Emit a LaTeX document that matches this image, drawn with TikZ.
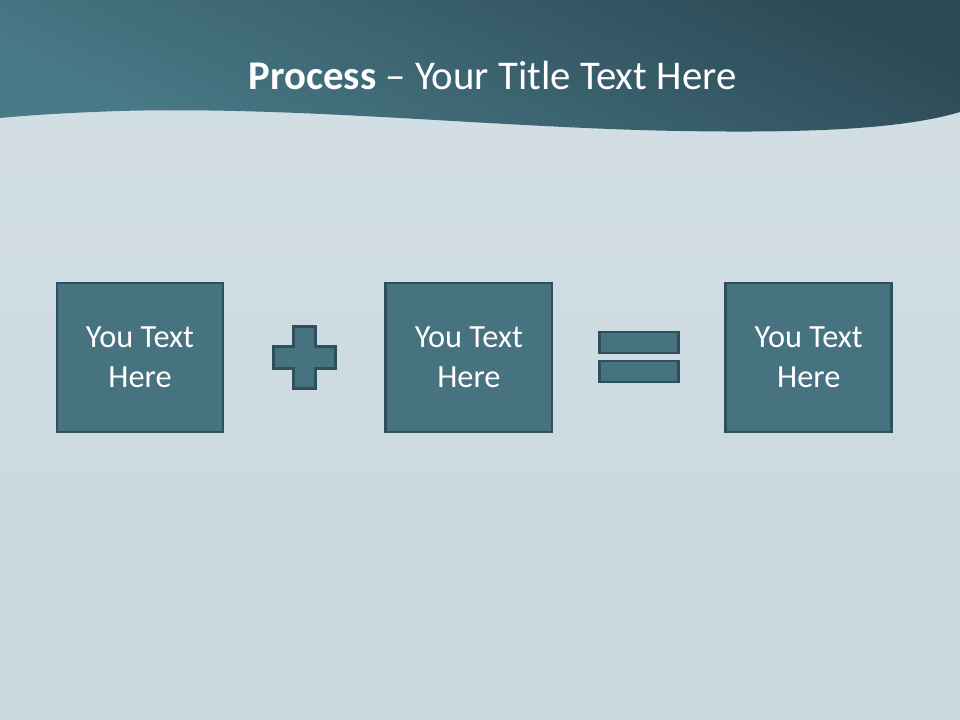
\documentclass[tikz,border=0pt]{standalone}
\usepackage{fontspec}
\setmainfont{Carlito}
\usetikzlibrary{positioning,calc}

\definecolor{bgtop}{RGB}{211,223,228}
\definecolor{bgbot}{RGB}{201,215,222}
\definecolor{hdrlight}{RGB}{74,122,136}
\definecolor{hdrdark}{RGB}{44,74,86}
\definecolor{boxfill}{RGB}{71,114,128}
\definecolor{boxline}{RGB}{46,80,94}

\begin{document}
\begin{tikzpicture}[
    x=0.025cm, y=-0.025cm,
    textbox/.style={draw=boxline, fill=boxfill, line width=2pt, minimum width=4.15cm, minimum height=3.725cm,
        inner sep=0pt, align=center, text=white, font=\fontsize{23}{28.5}\selectfont},
    sign/.style={draw=boxline, fill=boxfill, line width=2pt}
]
\useasboundingbox (0,0) rectangle (960,720);
% background and header band
\shade[top color=bgtop, bottom color=bgbot] (0,0) rectangle (960,720);
\shade[top color=hdrdark, bottom color=hdrlight, shading angle=-25]
    (0,0) -- (960,0) -- (960,112) .. controls (900,130) and (800,133) .. (680,131)
    .. controls (500,128) and (300,106) .. (120,111) .. controls (60,113) and (20,116) .. (0,118) -- cycle;
\node (title) at (492.5,75) [text=white, font=\fontsize{29}{35}\selectfont] {\textbf{Process} -- Your Title Text Here};

% boxes
\node (box1) at (140,357.5) [textbox] {You Text\\Here};
\node (box2) [textbox, right=4cm of box1] {You Text\\Here};
\node (box3) [textbox, right=4.275cm of box2] {You Text\\Here};

% plus and equals signs
\coordinate (plus) at ($(box1.east)!0.5!(box2.west)$);
\coordinate (equals) at ($(box2.east)!0.5!(box3.west)$);
\draw[sign, shift={(plus)}] (-11,-31) -- (11,-31) -- (11,-11) -- (31,-11) -- (31,11) -- (11,11)
    -- (11,31) -- (-11,31) -- (-11,11) -- (-31,11) -- (-31,-11) -- (-11,-11) -- cycle;
\draw[sign, shift={(equals)}] (-39.5,-25.5) rectangle (39.5,-4.5);
\draw[sign, shift={(equals)}] (-39.5,3.5) rectangle (39.5,24.5);
\end{tikzpicture}
\end{document}
